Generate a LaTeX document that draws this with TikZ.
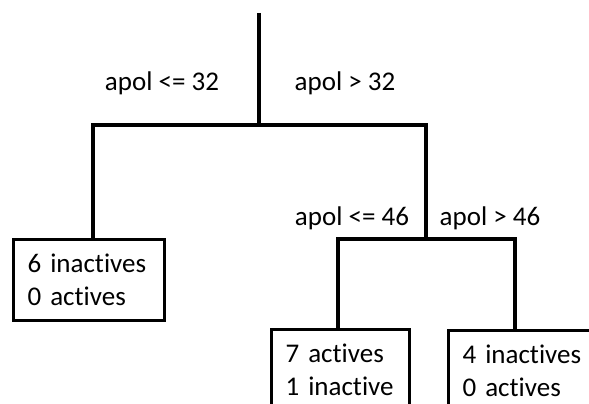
\documentclass[tikz,border=0pt]{standalone}
\usepackage{fontspec}
\setmainfont{Carlito}[Ligatures=NoCommon]

\tikzset{
  branch/.style={black, line width=3.8pt},
  leaf/.style={draw, black, line width=3.2pt, anchor=north west, align=left,
    inner xsep=14pt, minimum height=81pt, font=\fontsize{27}{33}\selectfont},
  cond/.style={font=\fontsize{27}{33}\selectfont}
}

\begin{document}
\begin{tikzpicture}[x=1pt,y=-1pt]

\useasboundingbox (0,0) rectangle (589,404);
\clip (0,0) rectangle (589,404);

\coordinate (root) at (259,13) ;\coordinate (split1) at (259,125) ;
\coordinate (j1l) at (93,125) ;\coordinate (split2) at (426,239) ;
\coordinate (j2l) at (338,239) ;\coordinate (j2r) at (515,239) ;

\node [leaf, text width=123pt] (inact6) at (12,238) {6~inactives\\0~actives};
\node [leaf, text width=110pt] (act7) at (270,328) {7~actives\\1~inactive};
\node [leaf, text width=123pt] (inact4) at (447,329) {4~inactives\\0~actives};

\node [cond] (c1) at (162,83) {apol <= 32};  \node [cond] (c2) at (345,83) {apol > 32};
\node [cond] (c3) at (352,218) {apol <= 46}; \node [cond] (c4) at (490,218) {apol > 46};

\draw[branch] (root) -- (split1);
\draw[branch] (inact6.north -| j1l) |- (split1) -| (split2);
\draw[branch] (act7.north -| j2l) |- (split2) -| (inact4.north -| j2r);

\end{tikzpicture}
\end{document}
